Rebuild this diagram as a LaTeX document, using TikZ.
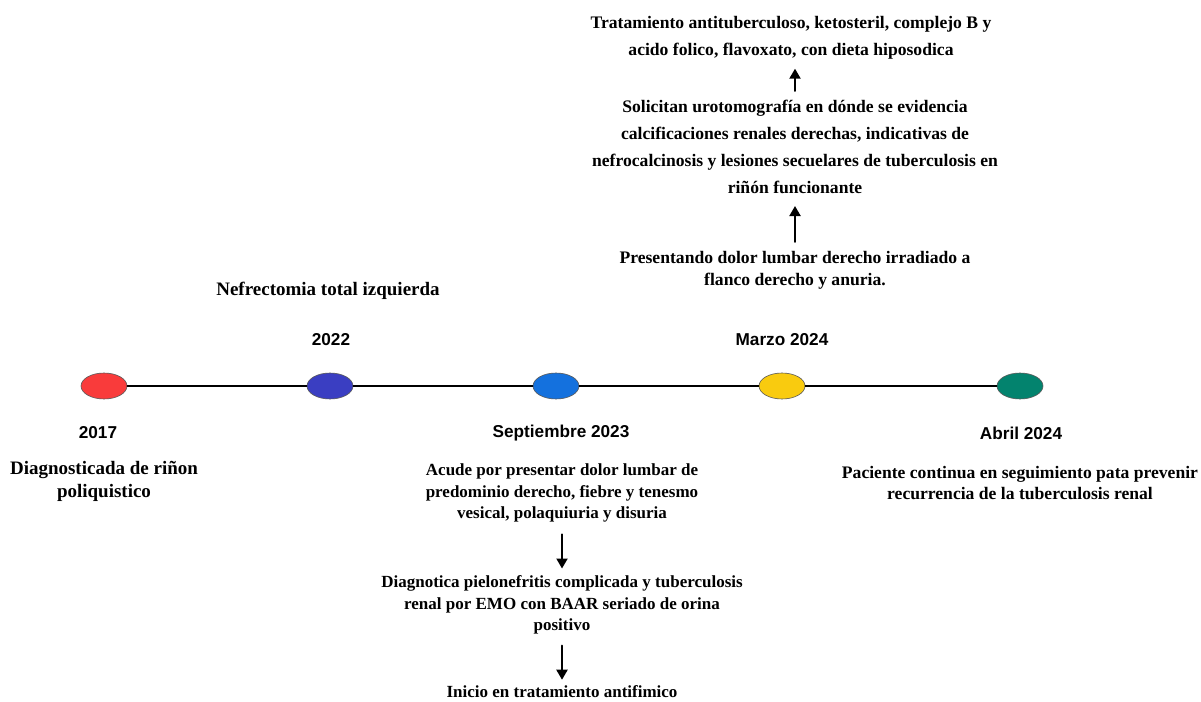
\documentclass[tikz,border=0pt]{standalone}
\usepackage{fontspec}
\setmainfont{Liberation Serif}
\setsansfont{Liberation Sans}
\usetikzlibrary{arrows.meta,positioning,shapes.geometric}

\definecolor{evred}{HTML}{F93B3B}
\definecolor{evblue}{HTML}{3A3EC2}
\definecolor{evsky}{HTML}{1471DE}
\definecolor{evyellow}{HTML}{F9CB0F}
\definecolor{evgreen}{HTML}{03836E}

\begin{document}
\begin{tikzpicture}[x=1pt,y=-1pt,line cap=round,line join=round,
  dot/.style={ellipse,draw=black!65,line width=.6pt,minimum width=46pt,minimum height=26pt,inner sep=0pt},
  year/.style={font=\sffamily\bfseries\fontsize{17.2}{20}\selectfont,inner sep=1pt},
  note/.style={font=\bfseries\fontsize{17}{21.5}\selectfont,align=center,inner sep=1pt},
  big/.style={font=\bfseries\fontsize{19}{23}\selectfont},
  flow/.style={-{Triangle[length=10pt,width=11pt]},line width=2pt}]
\path[use as bounding box] (0,0) rectangle (1201,701);
\fill[white] (0,0) rectangle (1201,701);
% timeline
\node[dot,fill=evred] (d17) at (104,386) {};
\node[dot,fill=evblue] (d22) at (330,386) {};
\node[dot,fill=evsky] (d23) at (556,386) {};
\node[dot,fill=evyellow] (d24m) at (782,386) {};
\node[dot,fill=evgreen] (d24a) at (1020,386) {};
\draw[line width=1.4pt] (d17) -- (d22) -- (d23) -- (d24m) -- (d24a);
% years
\node[year] (y17) at (98,433) {2017};
\node[year] (y22) at (331,340) {2022};
\node[year] (y23) at (561,433) {Septiembre 2023};
\node[year] (y24m) at (782,340) {Marzo 2024};
\node[year] (y24a) at (1021,433) {Abril 2024};
% notes
\node[note,big] (n17) at (104,481) {Diagnosticada de riñon\\poliquistico};
\node[note,big] (n22) at (328,291) {Nefrectomia total izquierda};
\node[note] (n23a) at (562,493) {Acude por presentar dolor lumbar de\\predominio derecho, fiebre y tenesmo\\vesical, polaquiuria y disuria};
\node[note] (n23b) at (562,605) {Diagnotica pielonefritis complicada y tuberculosis\\renal por EMO con BAAR seriado de orina\\positivo};
\node[note] (n23c) at (562,692) {Inicio en tratamiento antifimico};
\node[note,font=\bfseries\fontsize{17.6}{22}\selectfont] (n24a) at (795,270) {Presentando dolor lumbar derecho irradiado a\\flanco derecho y anuria.};
\node[note,font=\bfseries\fontsize{17.6}{27}\selectfont] (n24b) at (795,147) {Solicitan urotomografía en dónde se evidencia\\calcificaciones renales derechas, indicativas de\\nefrocalcinosis y lesiones secuelares de tuberculosis en\\riñón funcionante};
\node[note,font=\bfseries\fontsize{17.6}{27}\selectfont] (n24c) at (791,38) {Tratamiento antituberculoso, ketosteril, complejo B y\\acido folico, flavoxato, con dieta hiposodica};
\node[note,font=\bfseries\fontsize{17.6}{21.5}\selectfont] (n24d) at (1020,483) {Paciente continua en seguimiento pata prevenir\\recurrencia de la tuberculosis renal};
% arrows
\draw[flow,shorten <=11pt,shorten >=6pt] (n23a.south) -- (n23b.north);
\draw[flow,shorten <=10pt,shorten >=5pt] (n23b.south) -- (n23c.north);
\draw[flow,shorten <=8pt,shorten >=11pt] (n24a.north) -- (n24b.south);
\draw[flow,shorten <=8pt,shorten >=8pt] (n24b.north) -- (n24b.north |- n24c.south);
\end{tikzpicture}
\end{document}
